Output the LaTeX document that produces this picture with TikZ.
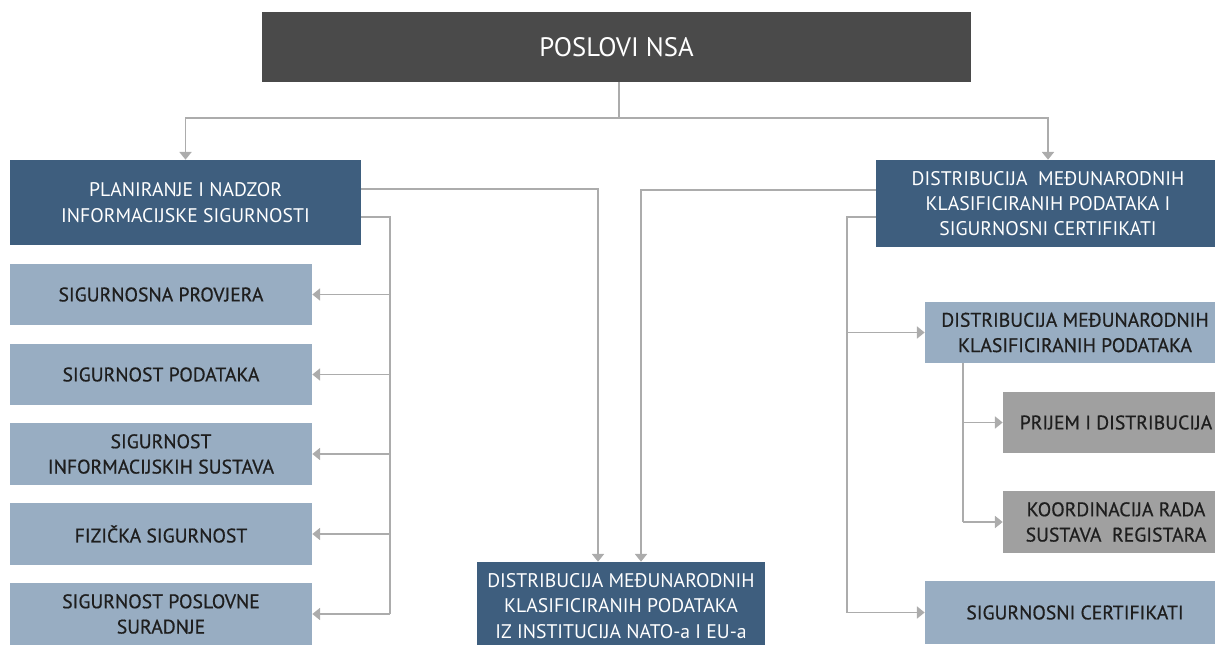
\documentclass[tikz,border=0pt]{standalone}
\usepackage{fontspec}
\setmainfont{PT Sans}
\newfontfamily\boxfont[FakeBold=0.6]{PT Sans}
\usetikzlibrary{arrows.meta}
\definecolor{nsagray}{RGB}{74,74,74}
\definecolor{nsablue}{RGB}{62,94,126}
\definecolor{nsalight}{RGB}{152,173,194}
\definecolor{nsamid}{RGB}{160,160,160}
\definecolor{nsaline}{RGB}{172,172,172}
\definecolor{nsatext}{RGB}{30,30,30}

\begin{document}
\begin{tikzpicture}[x=0.025cm,y=-0.025cm,
    headbox/.style={fill=nsagray,text=white,inner sep=0pt,minimum width=17.725cm,minimum height=1.75cm,font=\fontsize{19}{22}\selectfont},
    mainbox/.style={fill=nsablue,text=white,align=center,inner sep=0pt,font=\fontsize{14}{18}\selectfont},
    subbox/.style={fill=nsalight,text=nsatext,align=center,inner sep=0pt,minimum width=7.55cm,minimum height=1.525cm,font=\boxfont\fontsize{14}{18}\selectfont},
    taskbox/.style={subbox,fill=nsamid,minimum width=5.65cm},
    link/.style={draw=nsaline,line width=1.3pt},
    arr/.style={link,-{Triangle[length=5.5pt,width=8.5pt]}}]
    \useasboundingbox (0,0) rectangle (1215,644);

    % Poslovi NSA
    \node[headbox] (nsa) at (616.5,47) {POSLOVI NSA};

    % Planiranje i nadzor
    \node[mainbox,minimum width=8.775cm,minimum height=2.125cm] (plan) at (185.5,202.5)
        {PLANIRANJE I NADZOR\\INFORMACIJSKE SIGURNOSTI};
    \node[subbox] (provjera) at (161,294.5) {SIGURNOSNA PROVJERA};
    \node[subbox] (podaci) at (161,374.5) {SIGURNOST PODATAKA};
    \node[subbox] (sustavi) at (161,454) {SIGURNOST\\INFORMACIJSKIH SUSTAVA};
    \node[subbox] (fizicka) at (161,534) {FIZIČKA SIGURNOST};
    \node[subbox] (suradnja) at (161,614) {SIGURNOST POSLOVNE\\SURADNJE};

    % Distribucija i certifikati
    \node[mainbox,minimum width=8.6cm,minimum height=2.175cm] (dist) at (1048,203.5)
        {DISTRIBUCIJA\ \ MEĐUNARODNIH\\KLASIFICIRANIH PODATAKA I\\SIGURNOSNI CERTIFIKATI};
    \node[subbox,minimum width=7.5cm] (mkp) at (1075,332.5)
        {DISTRIBUCIJA MEĐUNARODNIH\\KLASIFICIRANIH PODATAKA};
    \node[taskbox] (prijem) at (1116,422.5) {PRIJEM I DISTRIBUCIJA};
    \node[taskbox] (koord) at (1116,522) {KOORDINACIJA RADA\\SUSTAVA\ \ REGISTARA};
    \node[subbox,minimum width=7.5cm,minimum height=1.575cm] (cert) at (1075,612.5) {SIGURNOSNI CERTIFIKATI};

    % NATO i EU
    \node[mainbox,minimum width=7.2cm,minimum height=2.2cm] (natoeu) at (621,606)
        {DISTRIBUCIJA MEĐUNARODNIH\\KLASIFICIRANIH PODATAKA\\IZ INSTITUCIJA NATO-a I EU-a};

    % connectors
    \coordinate (split) at (619,118);
    \draw[link] (nsa.south -| split) -- (split);
    \draw[arr] (split) -| (plan.north);
    \draw[arr] (split) -| (dist.north);
    \draw[arr] ([yshift=0.34cm]plan.east) -| ([xshift=-0.575cm]natoeu.north);
    \draw[arr] ([yshift=0.34cm]dist.west) -| ([xshift=0.5cm]natoeu.north);

    \coordinate (lbus) at (390,614);
    \draw[link] ([yshift=-0.36cm]plan.east) -| (lbus);
    \draw[arr] (provjera.east -| lbus) -- (provjera.east);
    \draw[arr] (podaci.east -| lbus) -- (podaci.east);
    \draw[arr] (sustavi.east -| lbus) -- (sustavi.east);
    \draw[arr] (fizicka.east -| lbus) -- (fizicka.east);
    \draw[arr] (lbus) -- (suradnja.east);

    \coordinate (rbus) at (847,612.5);
    \draw[link] ([yshift=-0.34cm]dist.west) -| (rbus);
    \draw[arr] (mkp.west -| rbus) -- (mkp.west);
    \draw[arr] (rbus) -- (cert.west);

    \coordinate (mbus) at (963,522);
    \draw[link] (mkp.south -| mbus) -- (mbus);
    \draw[arr] (prijem.west -| mbus) -- (prijem.west);
    \draw[arr] (mbus) -- (koord.west);
\end{tikzpicture}
\end{document}
